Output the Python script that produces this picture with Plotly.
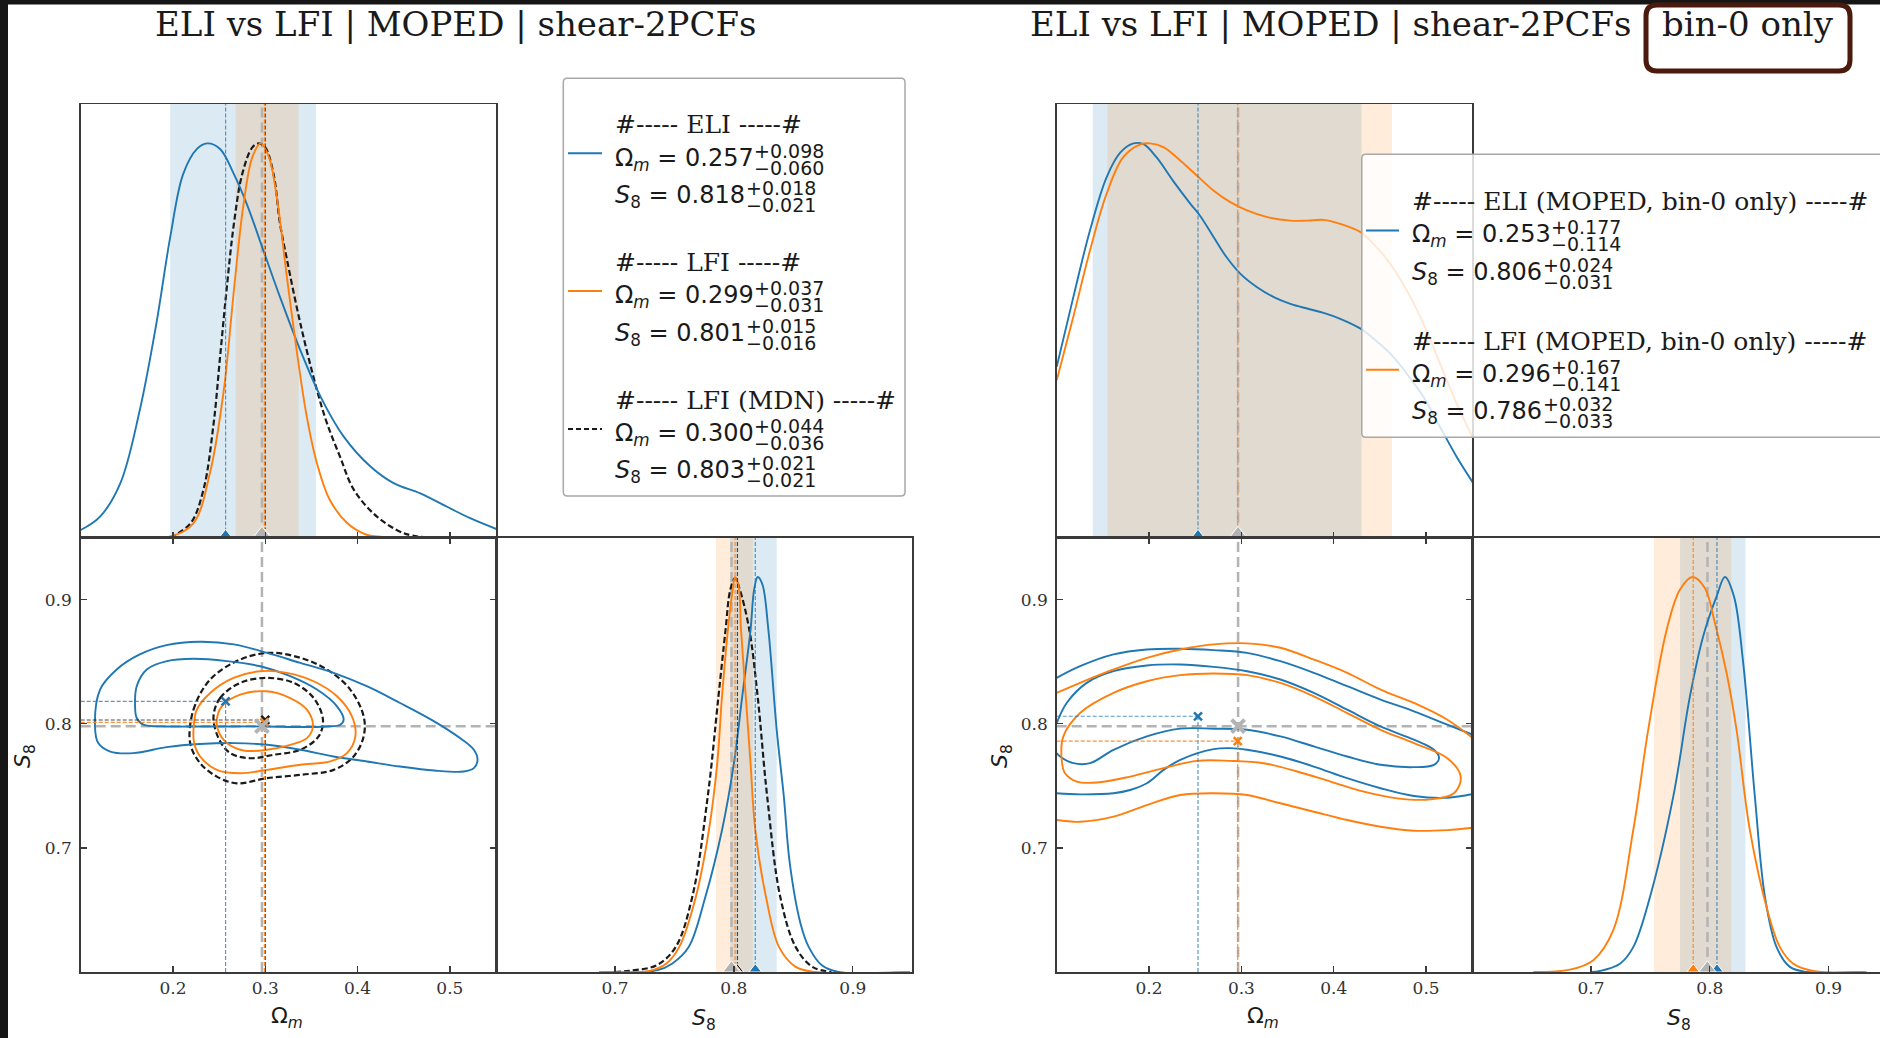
import plotly.graph_objects as go

# ======================= DATA =======================
OM_RANGE = [0.10, 0.55]
S8_RANGE = [0.60, 0.95]
PDF_RANGE = [0.0, 1.1]
OM_TICKS = [0.2, 0.3, 0.4, 0.5]
S8_TICKS = [0.7, 0.8, 0.9]
TRUTH_OM = 0.2964
TRUTH_S8 = 0.798

TITLE = "ELI vs LFI | MOPED | shear-2PCFs"
TITLE_TAG = "bin-0 only"

# summary statistics: [median, +err, -err]
L_ELI_OM = [0.257, 0.098, 0.060]
L_ELI_S8 = [0.818, 0.018, 0.021]
L_LFI_OM = [0.299, 0.037, 0.031]
L_LFI_S8 = [0.801, 0.015, 0.016]
L_MDN_OM = [0.300, 0.044, 0.036]
L_MDN_S8 = [0.803, 0.021, 0.021]
R_ELI_OM = [0.253, 0.177, 0.114]
R_ELI_S8 = [0.806, 0.024, 0.031]
R_LFI_OM = [0.296, 0.167, 0.141]
R_LFI_S8 = [0.786, 0.032, 0.033]

# ---- left: 1D Omega_m posteriors (peak-normalised) ----
L_OM_X_ELI = [0.100, 0.121, 0.143, 0.164, 0.182, 0.197, 0.211, 0.226, 0.237, 0.251, 0.266, 0.280,
              0.298, 0.316, 0.338, 0.360, 0.385, 0.414, 0.439, 0.468, 0.497, 0.522, 0.551]
L_OM_P_ELI = [0.019, 0.053, 0.138, 0.323, 0.543, 0.762, 0.922, 0.986, 1.000, 0.986, 0.922, 0.846,
              0.728, 0.610, 0.475, 0.357, 0.256, 0.180, 0.138, 0.112, 0.078, 0.049, 0.021]
L_OM_X_LFI = [0.100, 0.197, 0.222, 0.240, 0.255, 0.266, 0.276, 0.286, 0.295, 0.304, 0.313, 0.323,
              0.334, 0.345, 0.356, 0.370, 0.389, 0.410, 0.439, 0.550]
L_OM_P_LFI = [0.000, 0.003, 0.036, 0.163, 0.373, 0.627, 0.838, 0.965, 1.000, 0.965, 0.855, 0.669,
              0.475, 0.306, 0.188, 0.095, 0.036, 0.007, 0.000, 0.000]
L_OM_X_MDN = [0.197, 0.219, 0.233, 0.244, 0.251, 0.258, 0.266, 0.275, 0.286, 0.293, 0.300, 0.309,
              0.316, 0.323, 0.338, 0.356, 0.367, 0.381, 0.396, 0.421, 0.450, 0.475]
L_OM_P_MDN = [0.000, 0.036, 0.121, 0.289, 0.458, 0.627, 0.796, 0.922, 0.990, 1.000, 0.990, 0.922,
              0.796, 0.711, 0.543, 0.374, 0.289, 0.205, 0.121, 0.053, 0.011, 0.000]

# ---- left: 1D S8 posteriors ----
L_S8_X_ELI = [0.687, 0.735, 0.748, 0.762, 0.776, 0.790, 0.800, 0.807, 0.814, 0.817, 0.820, 0.824,
              0.829, 0.836, 0.842, 0.847, 0.856, 0.863, 0.874, 0.888, 0.948]
L_S8_P_ELI = [0.000, 0.004, 0.021, 0.063, 0.190, 0.359, 0.528, 0.697, 0.866, 0.968, 1.000, 0.981,
              0.866, 0.613, 0.444, 0.275, 0.123, 0.063, 0.017, 0.000, 0.000]
L_S8_X_LFI = [0.687, 0.729, 0.743, 0.754, 0.768, 0.779, 0.786, 0.790, 0.795, 0.799, 0.801, 0.804,
              0.806, 0.810, 0.814, 0.818, 0.827, 0.838, 0.852, 0.868, 0.948]
L_S8_P_LFI = [0.000, 0.003, 0.021, 0.063, 0.190, 0.359, 0.528, 0.697, 0.866, 0.968, 1.000, 0.976,
              0.866, 0.697, 0.528, 0.359, 0.190, 0.063, 0.013, 0.000, 0.000]
L_S8_X_MDN = [0.700, 0.712, 0.735, 0.751, 0.765, 0.778, 0.787, 0.793, 0.797, 0.801, 0.805, 0.813,
              0.820, 0.828, 0.839, 0.852, 0.866, 0.882]
L_S8_P_MDN = [0.000, 0.003, 0.017, 0.063, 0.190, 0.444, 0.697, 0.866, 0.968, 0.997, 0.968, 0.866,
              0.697, 0.444, 0.190, 0.063, 0.013, 0.000]

# ---- left: 2D contours (68% inner, 95% outer) ----
L_ELI_OUT_OM = [0.1155, 0.121, 0.139, 0.164, 0.193, 0.229, 0.266, 0.302, 0.338, 0.374, 0.410, 0.446,
                0.483, 0.511, 0.526, 0.530, 0.526, 0.515, 0.483, 0.446, 0.410, 0.374, 0.338, 0.302,
                0.266, 0.229, 0.193, 0.157, 0.132, 0.119, 0.1155]
L_ELI_OUT_S8 = [0.798, 0.8275, 0.8437, 0.8558, 0.8633, 0.866, 0.8639, 0.8571, 0.849, 0.841, 0.8302,
                0.8167, 0.8019, 0.7884, 0.779, 0.7709, 0.7642, 0.7615, 0.7623, 0.7655, 0.7696,
                0.7736, 0.779, 0.783, 0.7844, 0.7836, 0.7811, 0.7763, 0.7776, 0.7844, 0.798]
L_ELI_IN_OM = [0.1589, 0.1607, 0.1716, 0.1933, 0.2222, 0.2584, 0.2945, 0.327, 0.356, 0.3777, 0.3849,
               0.3813, 0.3668, 0.3379, 0.3017, 0.2656, 0.2294, 0.1933, 0.168, 0.1607, 0.1589]
L_ELI_IN_S8 = [0.814, 0.8302, 0.8437, 0.8504, 0.8523, 0.8504, 0.8463, 0.8383, 0.8275, 0.814, 0.8032,
               0.7992, 0.7978, 0.7973, 0.7978, 0.7978, 0.7978, 0.7978, 0.7992, 0.8046, 0.814]
L_LFI_OUT_OM = [0.2222, 0.2258, 0.2403, 0.2656, 0.2945, 0.3234, 0.3524, 0.3777, 0.3939, 0.3976,
                0.3885, 0.3704, 0.3379, 0.3017, 0.2728, 0.2475, 0.2294, 0.2229, 0.2222]
L_LFI_OUT_S8 = [0.7951, 0.8113, 0.8248, 0.8369, 0.8423, 0.841, 0.8342, 0.8221, 0.8059, 0.7898,
                0.7763, 0.7696, 0.7669, 0.7628, 0.7601, 0.7628, 0.7736, 0.7844, 0.7951]
L_LFI_IN_OM = [0.2475, 0.2529, 0.2728, 0.3017, 0.327, 0.3451, 0.3516, 0.3451, 0.327, 0.3017, 0.2764,
               0.2584, 0.2493, 0.2475]
L_LFI_IN_S8 = [0.8032, 0.814, 0.8234, 0.8261, 0.8207, 0.8113, 0.7978, 0.7884, 0.783, 0.779, 0.7784,
               0.7844, 0.7938, 0.8032]
L_MDN_OUT_OM = [0.2186, 0.2222, 0.2403, 0.2728, 0.3054, 0.3379, 0.3668, 0.3921, 0.4066, 0.4066,
                0.3957, 0.374, 0.3379, 0.3017, 0.2692, 0.2475, 0.2294, 0.2186]
L_MDN_OUT_S8 = [0.7844, 0.8113, 0.8356, 0.8517, 0.8571, 0.8531, 0.8437, 0.8275, 0.8059, 0.7898,
                0.7736, 0.7628, 0.7588, 0.7561, 0.752, 0.7574, 0.7682, 0.7844]
L_MDN_IN_OM = [0.2439, 0.2511, 0.2728, 0.3017, 0.3307, 0.3524, 0.3625, 0.3578, 0.3379, 0.309, 0.2837,
               0.262, 0.2493, 0.2439]
L_MDN_IN_S8 = [0.8059, 0.8207, 0.8329, 0.8369, 0.8329, 0.8207, 0.8032, 0.7898, 0.779, 0.775, 0.7722,
               0.7763, 0.7884, 0.8059]

# ---- right (bin-0 only): 1D Omega_m ----
R_OM_X_ELI = [0.100, 0.118, 0.136, 0.154, 0.169, 0.183, 0.194, 0.208, 0.226, 0.245, 0.255, 0.270,
              0.284, 0.299, 0.317, 0.335, 0.353, 0.371, 0.389, 0.407, 0.429, 0.443, 0.461, 0.479,
              0.497, 0.515, 0.533, 0.551]
R_OM_P_ELI = [0.433, 0.610, 0.779, 0.914, 0.977, 1.000, 0.998, 0.965, 0.905, 0.846, 0.817, 0.762,
              0.711, 0.669, 0.635, 0.610, 0.593, 0.581, 0.570, 0.555, 0.530, 0.505, 0.467, 0.416,
              0.357, 0.281, 0.205, 0.138]
R_OM_X_LFI = [0.100, 0.118, 0.136, 0.154, 0.172, 0.190, 0.201, 0.216, 0.234, 0.252, 0.270, 0.288,
              0.306, 0.328, 0.353, 0.371, 0.389, 0.407, 0.429, 0.443, 0.461, 0.479, 0.497, 0.515,
              0.533, 0.551]
R_OM_P_LFI = [0.399, 0.560, 0.728, 0.872, 0.965, 0.997, 1.000, 0.990, 0.956, 0.918, 0.880, 0.851,
              0.830, 0.813, 0.804, 0.804, 0.806, 0.796, 0.775, 0.745, 0.695, 0.627, 0.543, 0.441,
              0.340, 0.251]

# ---- right: 1D S8 ----
R_S8_X_ELI = [0.700, 0.7075, 0.7243, 0.7355, 0.7496, 0.7692, 0.7832, 0.7944, 0.8057, 0.8127, 0.8203,
              0.8281, 0.8379, 0.8464, 0.8562, 0.8674, 0.8814, 0.930]
R_S8_P_ELI = [0.000, 0.0025, 0.021, 0.063, 0.190, 0.444, 0.697, 0.850, 0.951, 1.000, 0.951,
              0.782, 0.444, 0.190, 0.063, 0.013, 0.000, 0.000]
R_S8_X_LFI = [0.6513, 0.6822, 0.7019, 0.7187, 0.7355, 0.7481, 0.7636, 0.7748, 0.7855, 0.7958, 0.8043,
              0.8141, 0.8225, 0.8337, 0.8492, 0.859, 0.8702, 0.887, 0.9319]
R_S8_P_LFI = [0.000, 0.006, 0.030, 0.106, 0.359, 0.613, 0.866, 0.968, 1.000, 0.972, 0.883,
              0.757, 0.613, 0.359, 0.148, 0.063, 0.021, 0.003, 0.000]

# ---- right: 2D contours (outer ones leave the panel on both sides) ----
R_ELI_OUT_TOP_OM = [0.100, 0.1253, 0.1615, 0.1976, 0.2338, 0.2699, 0.3061, 0.3422, 0.3784, 0.4145,
                    0.4507, 0.4868, 0.523, 0.5505]
R_ELI_OUT_TOP_S8 = [0.8369, 0.8463, 0.8558, 0.8598, 0.8604, 0.8593, 0.8571, 0.8504, 0.841, 0.8302,
                    0.8194, 0.81, 0.7992, 0.7911]
R_ELI_OUT_BOT_OM = [0.100, 0.1253, 0.1615, 0.1795, 0.1976, 0.2157, 0.2338, 0.2699, 0.288, 0.3061,
                    0.3422, 0.3784, 0.4145, 0.4507, 0.4868, 0.523, 0.5505]
R_ELI_OUT_BOT_S8 = [0.744, 0.7431, 0.744, 0.7466, 0.752, 0.7628, 0.7709, 0.7795, 0.7803, 0.779,
                    0.7736, 0.7655, 0.7561, 0.748, 0.7418, 0.7404, 0.7434]
R_ELI_IN_OM = [0.100, 0.1108, 0.1325, 0.1615, 0.1976, 0.2338, 0.2699, 0.3061, 0.3422, 0.3784, 0.4145,
               0.4507, 0.4868, 0.5085, 0.514, 0.5085, 0.4868, 0.4507, 0.4145, 0.3784, 0.3422, 0.3061,
               0.2699, 0.2338, 0.1976, 0.1615, 0.1362, 0.1181, 0.1036, 0.100]
R_ELI_IN_S8 = [0.8005, 0.8167, 0.8329, 0.8423, 0.8469, 0.8477, 0.8458, 0.8423, 0.8356, 0.8248, 0.8113,
               0.7978, 0.7871, 0.779, 0.7722, 0.7669, 0.765, 0.7669, 0.7736, 0.7817, 0.7898, 0.7951,
               0.796, 0.796, 0.7898, 0.779, 0.7682, 0.7682, 0.7736, 0.7763]
R_LFI_OUT_TOP_OM = [0.100, 0.1253, 0.1615, 0.1976, 0.2338, 0.2699, 0.3061, 0.3422, 0.3784, 0.4145,
                    0.4507, 0.4868, 0.523, 0.5505]
R_LFI_OUT_TOP_S8 = [0.8248, 0.8329, 0.8437, 0.8531, 0.8598, 0.8639, 0.8647, 0.8612, 0.8517, 0.841,
                    0.8275, 0.8167, 0.8032, 0.7884]
R_LFI_OUT_BOT_OM = [0.100, 0.1253, 0.1615, 0.1976, 0.2338, 0.2699, 0.3061, 0.3422, 0.3784, 0.4145,
                    0.4507, 0.4868, 0.523, 0.5505]
R_LFI_OUT_BOT_S8 = [0.7224, 0.721, 0.7251, 0.7345, 0.7426, 0.744, 0.7426, 0.7359, 0.7291, 0.7224,
                    0.717, 0.7138, 0.7143, 0.7162]
R_LFI_IN_OM = [0.1054, 0.1072, 0.1253, 0.1615, 0.1976, 0.2338, 0.2699, 0.3061, 0.3422, 0.3784, 0.4145,
               0.4507, 0.4868, 0.523, 0.5375, 0.5302, 0.5049, 0.4688, 0.4326, 0.3965, 0.3603, 0.3242,
               0.288, 0.2518, 0.2157, 0.1795, 0.1434, 0.1217, 0.109, 0.1054]
R_LFI_IN_S8 = [0.7709, 0.7898, 0.8086, 0.8248, 0.8342, 0.8391, 0.8404, 0.8391, 0.8329, 0.8221, 0.8086,
               0.7951, 0.7844, 0.7722, 0.7574, 0.744, 0.7391, 0.7399, 0.7453, 0.7534, 0.7615, 0.7682,
               0.7701, 0.7701, 0.7642, 0.7574, 0.7526, 0.7534, 0.7601, 0.7709]

# ======================= STYLE / LAYOUT =======================
W, H = 1880, 1038


def px(v):
    return v / W


def py(v):
    return 1 - v / H


BLUE = "#1f77b4"
ORANGE = "#ff7f0e"
BLACK = "#1a1a1a"
GREY = "#b3b3b3"
AX = "#3a3a3a"
SERIF = "DejaVu Serif"
SANS = "DejaVu Sans"
TXT = "#1a1a1a"
BAND_BLUE = "rgba(31,119,180,0.155)"
BAND_ORANGE = "rgba(255,127,14,0.15)"
MED_BLUE = "rgba(31,119,180,0.75)"
MED_ORANGE = "rgba(255,127,14,0.85)"
MED_BLACK = "rgba(20,20,20,0.75)"
TRUTH_DASH = "10px,5px"
MED_DASH = "4px,2px"
CONT_DASH = "6px,3px"
PANEL_Y = [104.0, 537.5, 972.0]
PANEL_H = PANEL_Y[1] - PANEL_Y[0]

fig = go.Figure()
axes_layout = {}


def axname(n, k):
    return f"{k}axis" if n == 1 else f"{k}axis{n}"


def ref(n, k):
    return k if n == 1 else f"{k}{n}"


def axis(**kw):
    d = dict(showline=True, linecolor=AX, linewidth=1.5, mirror=True, showgrid=False,
             zeroline=False, ticks="inside", ticklen=6, tickwidth=1.3, tickcolor=AX,
             tickfont=dict(family=SERIF, size=17, color="#333333"), fixedrange=True)
    d.update(kw)
    return d


def setup_half(n0, xe):
    n1, n2, n3 = n0, n0 + 1, n0 + 2
    y0, y1, y2 = PANEL_Y[0], PANEL_Y[1], PANEL_Y[2]
    xd_a = [px(xe[0]), px(xe[1])]
    x_end = min(xe[2], W)
    xd_b = [px(xe[1]), px(x_end)]
    s8_hi = S8_RANGE[0] + (S8_RANGE[1] - S8_RANGE[0]) * (x_end - xe[1]) / (xe[2] - xe[1])
    clipped = xe[2] > W
    axes_layout[axname(n1, 'x')] = axis(domain=xd_a, range=OM_RANGE, tickvals=OM_TICKS,
                                        showticklabels=False, anchor=ref(n1, 'y'))
    axes_layout[axname(n1, 'y')] = axis(domain=[py(y1), py(y0)], range=PDF_RANGE, ticks="",
                                        showticklabels=False, anchor=ref(n1, 'x'))
    axes_layout[axname(n2, 'x')] = axis(domain=xd_a, range=OM_RANGE, tickvals=OM_TICKS,
                                        mirror="ticks", anchor=ref(n2, 'y'))
    axes_layout[axname(n2, 'y')] = axis(domain=[py(y2), py(y1)], range=S8_RANGE, tickvals=S8_TICKS,
                                        mirror="ticks", anchor=ref(n2, 'x'), ticklabelstandoff=4)
    axes_layout[axname(n3, 'x')] = axis(domain=xd_b, range=[S8_RANGE[0], s8_hi], tickvals=S8_TICKS,
                                        anchor=ref(n3, 'y'))
    axes_layout[axname(n3, 'y')] = axis(domain=[py(y2), py(y1)], range=PDF_RANGE, ticks="",
                                        showticklabels=False, anchor=ref(n3, 'x'), mirror=not clipped)
    return n1, n2, n3


def line(n, x, y, color, width=2.0, dash=None, smooth=False):
    ln = dict(color=color, width=width, dash=dash)
    if smooth:
        ln.update(shape="spline", smoothing=1.0)
    fig.add_trace(go.Scatter(x=x, y=y, xaxis=ref(n, 'x'), yaxis=ref(n, 'y'), mode="lines",
                             line=ln, hoverinfo="skip", showlegend=False))


def band(n, stats, fill):
    med, up, lo = stats
    fig.add_shape(type="rect", xref=ref(n, 'x'), yref=ref(n, 'y') + " domain",
                  x0=med - lo, x1=med + up, y0=0, y1=1, fillcolor=fill,
                  line=dict(width=0), layer="below")


def tri(n, xval, color, size):
    yoff = (size / 4.0) * (PDF_RANGE[1] - PDF_RANGE[0]) / PANEL_H
    fig.add_trace(go.Scatter(x=[xval], y=[yoff], xaxis=ref(n, 'x'), yaxis=ref(n, 'y'),
                             mode="markers", cliponaxis=False,
                             marker=dict(symbol="triangle-up", size=size, color=color,
                                         line=dict(color="white", width=1)),
                             hoverinfo="skip", showlegend=False))


def cross(n, xv, yv, color, size, width):
    fig.add_trace(go.Scatter(x=[xv], y=[yv], xaxis=ref(n, 'x'), yaxis=ref(n, 'y'), mode="markers",
                             marker=dict(symbol="x-thin", size=size, color=color,
                                         line=dict(color=color, width=width)),
                             hoverinfo="skip", showlegend=False))


def draw_half(n0, xe, sets):
    n1, n2, n3 = setup_half(n0, xe)
    for s in sets:
        if s["band"]:
            band(n1, s["om"], s["band"])
            band(n3, s["s8"], s["band"])
    line(n1, [TRUTH_OM, TRUTH_OM], PDF_RANGE, GREY, 2.5, TRUTH_DASH)
    line(n3, [TRUTH_S8, TRUTH_S8], PDF_RANGE, GREY, 2.5, TRUTH_DASH)
    line(n2, OM_RANGE, [TRUTH_S8, TRUTH_S8], GREY, 2.5, TRUTH_DASH)
    line(n2, [TRUTH_OM, TRUTH_OM], S8_RANGE, GREY, 2.5, TRUTH_DASH)
    for s in sets:
        w = 2.2 if s["dash"] else 1.9
        line(n1, s["om_x"], s["om_p"], s["color"], w, s["dash"], smooth=True)
        line(n3, s["s8_x"], s["s8_p"], s["color"], w, s["dash"], smooth=True)
        for cx, cy in s["contours"]:
            line(n2, cx, cy, s["color"], w, s["dash"], smooth=True)
    for s in sets:
        om, s8 = s["om"][0], s["s8"][0]
        line(n1, [om, om], PDF_RANGE, s["med"], 1.2, MED_DASH)
        line(n3, [s8, s8], PDF_RANGE, s["med"], 1.2, MED_DASH)
        line(n2, [OM_RANGE[0], om], [s8, s8], s["med"], 1.2, MED_DASH)
        line(n2, [om, om], [S8_RANGE[0], s8], s["med"], 1.2, MED_DASH)
    for s in sets:
        cross(n2, s["om"][0], s["s8"][0], s["color"], 8, 2.5)
        tri(n1, s["om"][0], s["color"], 11)
        tri(n3, s["s8"][0], s["color"], 11)
    cross(n2, TRUTH_OM, TRUTH_S8, GREY, 13, 4)
    tri(n1, TRUTH_OM, GREY, 15)
    tri(n3, TRUTH_S8, GREY, 15)


LEFT_SETS = [
    dict(color=BLACK, dash=CONT_DASH, band=None, med=MED_BLACK, om=L_MDN_OM, s8=L_MDN_S8,
         om_x=L_OM_X_MDN, om_p=L_OM_P_MDN, s8_x=L_S8_X_MDN, s8_p=L_S8_P_MDN,
         contours=[(L_MDN_OUT_OM, L_MDN_OUT_S8), (L_MDN_IN_OM, L_MDN_IN_S8)]),
    dict(color=BLUE, dash=None, band=BAND_BLUE, med=MED_BLUE, om=L_ELI_OM, s8=L_ELI_S8,
         om_x=L_OM_X_ELI, om_p=L_OM_P_ELI, s8_x=L_S8_X_ELI, s8_p=L_S8_P_ELI,
         contours=[(L_ELI_OUT_OM, L_ELI_OUT_S8), (L_ELI_IN_OM, L_ELI_IN_S8)]),
    dict(color=ORANGE, dash=None, band=BAND_ORANGE, med=MED_ORANGE, om=L_LFI_OM, s8=L_LFI_S8,
         om_x=L_OM_X_LFI, om_p=L_OM_P_LFI, s8_x=L_S8_X_LFI, s8_p=L_S8_P_LFI,
         contours=[(L_LFI_OUT_OM, L_LFI_OUT_S8), (L_LFI_IN_OM, L_LFI_IN_S8)]),
]
RIGHT_SETS = [
    dict(color=BLUE, dash=None, band=BAND_BLUE, med=MED_BLUE, om=R_ELI_OM, s8=R_ELI_S8,
         om_x=R_OM_X_ELI, om_p=R_OM_P_ELI, s8_x=R_S8_X_ELI, s8_p=R_S8_P_ELI,
         contours=[(R_ELI_OUT_TOP_OM, R_ELI_OUT_TOP_S8), (R_ELI_OUT_BOT_OM, R_ELI_OUT_BOT_S8),
                   (R_ELI_IN_OM, R_ELI_IN_S8)]),
    dict(color=ORANGE, dash=None, band=BAND_ORANGE, med=MED_ORANGE, om=R_LFI_OM, s8=R_LFI_S8,
         om_x=R_OM_X_LFI, om_p=R_OM_P_LFI, s8_x=R_S8_X_LFI, s8_p=R_S8_P_LFI,
         contours=[(R_LFI_OUT_TOP_OM, R_LFI_OUT_TOP_S8), (R_LFI_OUT_BOT_OM, R_LFI_OUT_BOT_S8),
                   (R_LFI_IN_OM, R_LFI_IN_S8)]),
]

draw_half(1, [80.7, 496.0, 912.3], LEFT_SETS)
draw_half(4, [1056.7, 1472.3, 1888.0], RIGHT_SETS)


# ----------------------- text helpers -----------------------
def ann(x, y, text, size, family, xanchor="center", angle=0, color=TXT, align="center"):
    fig.add_annotation(x=px(x), y=py(y), xref="paper", yref="paper", text=text, showarrow=False,
                       xanchor=xanchor, yanchor="middle", textangle=angle, borderpad=0,
                       align=align, font=dict(family=family, size=size, color=color))


def rrect(x0, y0, x1, y1, r):
    X = lambda v: f"{px(v):.6f}"
    Y = lambda v: f"{py(v):.6f}"
    return (f"M {X(x0 + r)},{Y(y0)} L {X(x1 - r)},{Y(y0)} Q {X(x1)},{Y(y0)} {X(x1)},{Y(y0 + r)} "
            f"L {X(x1)},{Y(y1 - r)} Q {X(x1)},{Y(y1)} {X(x1 - r)},{Y(y1)} L {X(x0 + r)},{Y(y1)} "
            f"Q {X(x0)},{Y(y1)} {X(x0)},{Y(y1 - r)} L {X(x0)},{Y(y0 + r)} "
            f"Q {X(x0)},{Y(y0)} {X(x0 + r)},{Y(y0)} Z")


OM_LABEL = "Ω<sub><i>m</i></sub>"
S8_LABEL = "<i>S</i><sub>8</sub>"
ERR_FONT = 19.0       # size of the stacked +/- errors
ERR_GAP = 16.8        # vertical distance between the stacked errors (px)


def legend(cfg, entries):
    x0, y0, x1, y1 = cfg["box"]
    fig.add_shape(type="path", xref="paper", yref="paper", path=rrect(x0, y0, x1, y1, 4),
                  fillcolor="rgba(255,255,255,0.82)", line=dict(color="#a8a8a8", width=1.5),
                  layer="above")
    for i, (name, color, dash, om, s8) in enumerate(entries):
        sy = cfg["sample_y"][i]
        fig.add_shape(type="line", xref="paper", yref="paper", x0=px(cfg["sample"][0]),
                      x1=px(cfg["sample"][1]), y0=py(sy), y1=py(sy),
                      line=dict(color=color, width=2, dash=dash), layer="above")
        tx = cfg["text_x"]
        ann(tx, cfg["header_y"][i], f"#----- {name} -----#", 25, SERIF, "left")
        ann(tx, cfg["om_y"][i], f"{OM_LABEL} = {om[0]:.3f}", 24, SANS, "left")
        ann(tx, cfg["s8_y"][i], f"{S8_LABEL} = {s8[0]:.3f}", 24, SANS, "left")
        for yc, sx, st in ((cfg["om_y"][i], cfg["om_sup_x"], om), (cfg["s8_y"][i], cfg["s8_sup_x"], s8)):
            txt = (f"<span style='font-size:{ERR_FONT}px'>+{st[1]:.3f}</span><br>"
                   f"<span style='font-size:{ERR_FONT}px'>\u2212{st[2]:.3f}</span>")
            ann(sx, yc, txt, ERR_GAP / 1.3, SANS, "left", align="left")


LEG_L = dict(box=(563.3, 78.3, 905.0, 496.0), text_x=614.0, sample=(568.0, 602.0),
             header_y=[124.3, 262.7, 400.7], om_y=[159.3, 296.7, 435.0], s8_y=[196.7, 335.0, 471.7],
             sample_y=[153.3, 291.0, 429.0], om_sup_x=753, s8_sup_x=745)
LEG_R = dict(box=(1361.8, 154.2, 1900.0, 437.3), text_x=1410.8, sample=(1366.0, 1399.0),
             header_y=[201.8, 341.0], om_y=[235.6, 375.5], s8_y=[273.4, 413.0],
             sample_y=[230.5, 369.7], om_sup_x=1550, s8_sup_x=1542)

legend(LEG_L, [("ELI", BLUE, None, L_ELI_OM, L_ELI_S8),
               ("LFI", ORANGE, None, L_LFI_OM, L_LFI_S8),
               ("LFI (MDN)", BLACK, "5px,3px", L_MDN_OM, L_MDN_S8)])
legend(LEG_R, [("ELI (MOPED, bin-0 only)", BLUE, None, R_ELI_OM, R_ELI_S8),
               ("LFI (MOPED, bin-0 only)", ORANGE, None, R_LFI_OM, R_LFI_S8)])

# axis labels
ann(287, 1017, OM_LABEL, 22, SANS)
ann(24, 756, S8_LABEL, 22, SANS, angle=-90)
ann(703.5, 1019, S8_LABEL, 22, SANS)
ann(1262.5, 1017, OM_LABEL, 22, SANS)
ann(1001, 756, S8_LABEL, 22, SANS, angle=-90)
ann(1679, 1019, S8_LABEL, 22, SANS)

# titles
ann(455.6, 24, TITLE, 34, SERIF)
ann(1331, 24, TITLE, 34, SERIF)
ann(1747.5, 24, TITLE_TAG, 34, SERIF)

# dark screenshot frame + highlight box
fig.add_shape(type="rect", xref="paper", yref="paper", x0=0, x1=px(8), y0=0, y1=1,
              fillcolor="#161616", line=dict(width=0), layer="above")
fig.add_shape(type="rect", xref="paper", yref="paper", x0=0, x1=1, y0=py(4.5), y1=1,
              fillcolor="#161616", line=dict(width=0), layer="above")
fig.add_shape(type="path", xref="paper", yref="paper", path=rrect(1646, 5, 1850, 71, 11),
              fillcolor="rgba(0,0,0,0)", line=dict(color="#4a1a0c", width=5), layer="above")

fig.update_layout(width=W, height=H, autosize=False,
                  margin=dict(l=0, r=0, t=0, b=0, pad=0),
                  paper_bgcolor="white", plot_bgcolor="white", showlegend=False,
                  **axes_layout)

fig.write_html("out.html", config={"displayModeBar": False, "staticPlot": True},
               post_script="document.body.style.margin='0px';document.body.style.overflow='hidden';")
